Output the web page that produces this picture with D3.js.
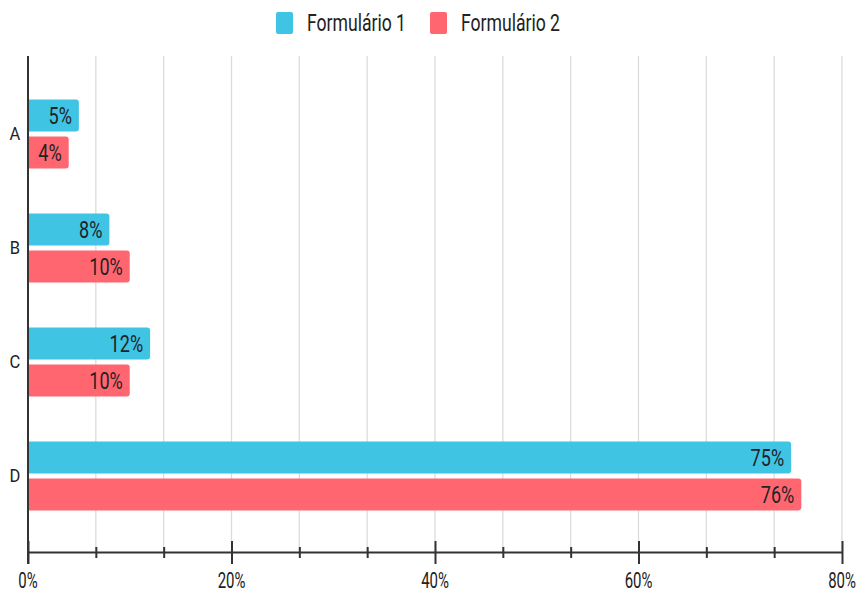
<!DOCTYPE html>
<html>
<head>
<meta charset="utf-8">
<script src="https://cdn.jsdelivr.net/npm/d3@7"></script>
<style>
  body { margin: 0; background: #fff; }
  svg { display: block; font-family: "Roboto", "Liberation Sans", sans-serif; }
</style>
</head>
<body>
<svg id="chart" width="860" height="593"></svg>
<script>
var categories = ["A", "B", "C", "D"];
var seriesNames = ["Formulário 1", "Formulário 2"];
var form1 = [5, 8, 12, 75];
var form2 = [4, 10, 10, 76];
var majorTicks = [0, 20, 40, 60, 80];

var colors = ["#3fc4e4", "#ff6670"];
var svg = d3.select("#chart");

var x = d3.scaleLinear().domain([0, 80]).range([28, 842]);
var y = d3.scaleBand().domain(categories).range([77, 533]).paddingInner(0.395).paddingOuter(0.1975);
var ySub = d3.scaleBand().domain(seriesNames).range([0, y.bandwidth()]).paddingInner(0.14);

var rows = categories.map(function(c, i) {
    return {cat: c, values: [form1[i], form2[i]]};
});

// squeeze text around its anchor point (the reference font is narrow)
function squeeze(px, py, sx, sy) {
    return "translate(" + px + "," + py + ") scale(" + sx + "," + sy + ")";
}

// grid, every 1/3 of a major step
var gridVals = d3.range(0, 81, 20 / 3).slice(1);
svg.append("g").selectAll("line").data(gridVals).join("line")
    .attr("x1", function(d) { return x(d); }).attr("x2", function(d) { return x(d); })
    .attr("y1", 56).attr("y2", 552)
    .attr("stroke", "#dcdcdc").attr("stroke-width", 1.3);

// bars
var groups = svg.append("g").selectAll("g").data(rows).join("g")
    .attr("transform", function(d) { return "translate(0," + y(d.cat) + ")"; });

groups.selectAll("path").data(function(d) {
        return d.values.map(function(v, j) { return {v: v, s: seriesNames[j], j: j}; });
    }).join("path")
    .attr("fill", function(d) { return colors[d.j]; })
    .attr("d", function(d) {
        var x0 = x(0), x1 = x(d.v), y0 = ySub(d.s), h = ySub.bandwidth(), r = 3;
        return "M" + x0 + "," + y0 + "H" + (x1 - r) + "Q" + x1 + "," + y0 + " " + x1 + "," + (y0 + r)
            + "V" + (y0 + h - r) + "Q" + x1 + "," + (y0 + h) + " " + (x1 - r) + "," + (y0 + h) + "H" + x0 + "Z";
    });

groups.selectAll("text").data(function(d) {
        return d.values.map(function(v, j) { return {v: v, s: seriesNames[j]}; });
    }).join("text")
    .attr("x", 0).attr("y", 0)
    .attr("dy", "0.36em")
    .attr("text-anchor", "end")
    .attr("font-size", 21)
    .attr("fill", "#1f2328")
    .attr("transform", function(d) {
        return squeeze(x(d.v) - 7, ySub(d.s) + ySub.bandwidth() / 2, 0.86, 1.12);
    })
    .text(function(d) { return d.v + "%"; });

// category labels
svg.append("g").selectAll("text").data(categories).join("text")
    .attr("x", 0).attr("y", 0)
    .attr("dy", "0.36em").attr("text-anchor", "middle")
    .attr("font-size", 18).attr("fill", "#222")
    .attr("transform", function(d) { return squeeze(15, y(d) + y.bandwidth() / 2, 0.92, 1); })
    .text(function(d) { return d; });

// y axis line
svg.append("line").attr("x1", x(0)).attr("x2", x(0)).attr("y1", 56).attr("y2", 564)
    .attr("stroke", "#333").attr("stroke-width", 2);

// x axis
var isMajor = function(d) { var m = d % 20; return m < 0.01 || m > 19.99; };
var xAxis = svg.append("g").attr("transform", "translate(0,552)")
    .call(d3.axisBottom(x).tickValues(gridVals.concat([0])).tickSize(0).tickFormat(""));
xAxis.select(".domain").attr("stroke", "#333").attr("stroke-width", 2);
xAxis.selectAll(".tick line").remove();
xAxis.selectAll(".tick").append("line")
    .attr("y1", function(d) { return isMajor(d) ? -11 : -5; })
    .attr("y2", function(d) { return isMajor(d) ? 12 : 6; })
    .attr("stroke", "#333").attr("stroke-width", 2);

svg.append("g").selectAll("text").data(majorTicks).join("text")
    .attr("x", 0).attr("y", 0)
    .attr("text-anchor", "middle").attr("font-size", 17).attr("fill", "#222")
    .attr("transform", function(d) { return squeeze(x(d), 588, 0.88, 1.28); })
    .text(function(d) { return d + "%"; });

// legend
var legend = svg.append("g");
var legendX = [276, 430];
seriesNames.forEach(function(s, j) {
    legend.append("rect").attr("x", legendX[j]).attr("y", 12).attr("width", 17).attr("height", 22)
        .attr("rx", 2).attr("fill", colors[j]);
    legend.append("text").attr("x", 0).attr("y", 0)
        .attr("font-size", 20).attr("fill", "#222")
        .attr("transform", squeeze(legendX[j] + 31, 31, 0.88, 1.18))
        .text(s);
});
</script>
</body>
</html>
